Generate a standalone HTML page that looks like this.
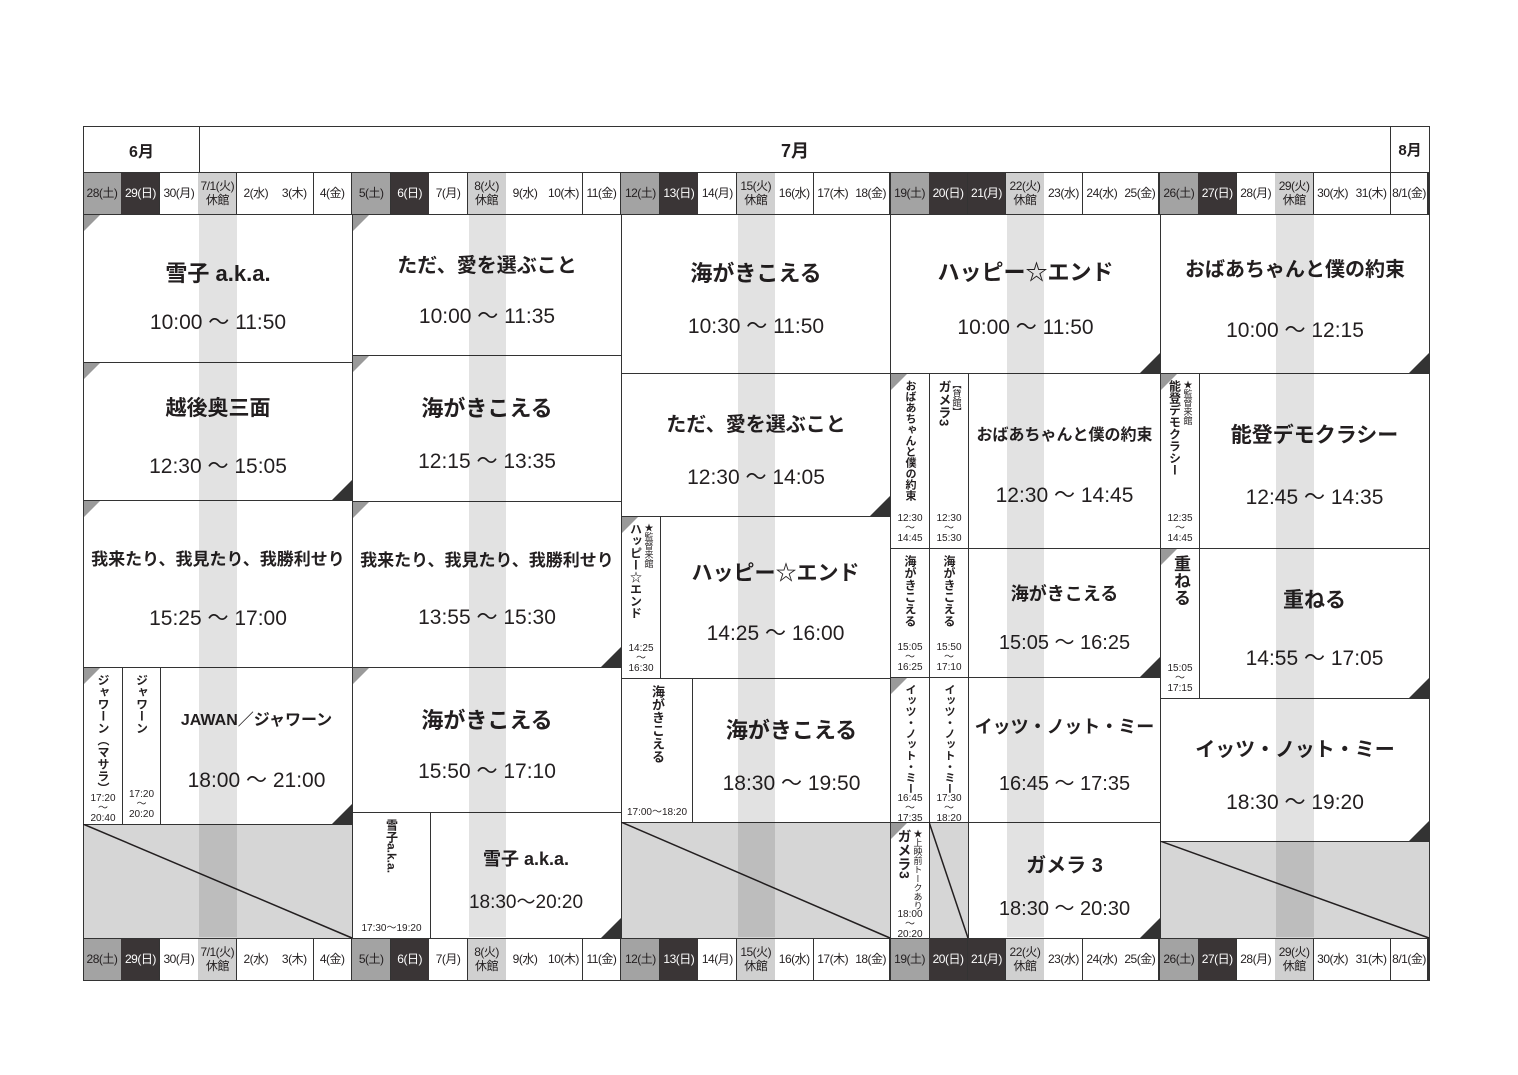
<!DOCTYPE html>
<html><head><meta charset="utf-8">
<style>
body{margin:0;background:#fff;width:1518px;height:1075px;position:relative;overflow:hidden;font-family:"Liberation Sans","Noto Sans CJK JP",sans-serif;color:#231f20}
.a{position:absolute;box-sizing:border-box}
.c{border:1px solid #333;background:transparent}
.day{display:flex;align-items:center;justify-content:center;text-align:center;font-size:12px;line-height:14px;border-right:1px solid #333;letter-spacing:-0.5px}
.blk{display:flex;flex-direction:column;align-items:center;justify-content:center;text-align:center}
.t{font-weight:bold}
.tm{font-size:21px;margin-top:18px}
.v{display:flex;flex-direction:column;align-items:center;justify-content:space-between;padding:6px 0 4px}
.vt{writing-mode:vertical-rl;font-size:13px;font-weight:bold;line-height:14px}
.vtime{font-size:10px;line-height:10px;text-align:center}
.tl{position:absolute;left:0;top:0;width:0;height:0;border-top:16px solid #9a9a9a;border-right:16px solid transparent}
.br{position:absolute;right:0;bottom:0;width:0;height:0;border-bottom:20px solid #333;border-left:20px solid transparent}
.st{position:absolute;background:#e2e2e2;mix-blend-mode:multiply}
</style></head><body>
<div id="root"></div>
<script>
const R=document.getElementById('root');
const CW=1346/35;
function X(i){return 83+i*CW}
let h='';
function add(s){h+=s}
add(`<div class="a c" style="left:83px;top:126px;width:1347px;height:855px"></div>`);
add(`<div class="a c blk t" style="left:83px;top:126px;width:117px;height:47px;font-size:16px">6月</div>`);
add(`<div class="a c blk t" style="left:199px;top:126px;width:1192px;height:47px;font-size:18px">7月</div>`);
add(`<div class="a c blk t" style="left:1390px;top:126px;width:40px;height:47px;font-size:15px">8月</div>`);
const days=['28(土)','29(日)','30(月)','7/1(火)<br>休館','2(水)','3(木)','4(金)','5(土)','6(日)','7(月)','8(火)<br>休館','9(水)','10(木)','11(金)','12(土)','13(日)','14(月)','15(火)<br>休館','16(水)','17(木)','18(金)','19(土)','20(日)','21(月)','22(火)<br>休館','23(水)','24(水)','25(金)','26(土)','27(日)','28(月)','29(火)<br>休館','30(水)','31(木)','8/1(金)'];
function dayRow(y){
 days.forEach((d,i)=>{
  let bg='#fff',col='#231f20';
  if(i%7==0){bg='#a3a3a3'}
  if(i%7==1||i==23){bg='#3a3536';col='#fff'}
  if(i%7==3){bg='#d0d0d0'}
  const bw=(i%7==6)?'2px':'1px';
  add(`<div class="a day" style="left:${X(i)}px;top:${y}px;width:${CW+0.5}px;height:42px;background:${bg};color:${col};border-right-width:${bw}">${d}</div>`);
 });
 add(`<div class="a" style="left:83px;top:${y}px;width:1347px;height:43px;border:1px solid #333"></div>`);
}
dayRow(172);dayRow(938);
function B(x1,y1,x2,y2,t,tm,o){o=o||{};
 add(`<div class="a c blk" style="left:${x1}px;top:${y1}px;width:${x2-x1+1}px;height:${y2-y1+1}px;padding-top:${o.pt||8}px">${o.tl?'<div class="tl"></div>':''}${o.br?'<div class="br"></div>':''}<div class="t" style="font-size:${o.fs||22}px">${t}</div><div class="tm" style="font-size:${o.tfs||21}px;margin-top:${o.gap||18}px">${tm}</div></div>`);
}
function V(x1,y1,x2,y2,t,tm,o){o=o||{};
 const times=o.one?`<div class="vtime" style="font-size:10px;white-space:nowrap">${tm}</div>`:`<div class="vtime">${tm.split('〜').join('<br>〜<br>')}</div>`;
 const star=o.star?`<div class="vt" style="font-size:9px;line-height:10px;font-weight:normal">${o.star}</div>`:'';
 add(`<div class="a c v" style="left:${x1}px;top:${y1}px;width:${x2-x1+1}px;height:${y2-y1+1}px">${o.tl?'<div class="tl"></div>':''}${o.br?'<div class="br"></div>':''}<div style="display:flex;flex-direction:row;gap:1px"><div class="vt" style="font-size:${o.fs||13}px">${t}</div>${star}</div>${times}</div>`);
}
function G(x1,y1,x2,y2){
 const w=x2-x1,hh=y2-y1;
 add(`<svg class="a" style="left:${x1}px;top:${y1}px" width="${w+1}" height="${hh+1}"><rect x="0.5" y="0.5" width="${w}" height="${hh}" fill="#d6d6d6" stroke="#333"/><line x1="0" y1="0" x2="${w}" y2="${hh}" stroke="#231f20" stroke-width="1.5"/></svg>`);
}
B(83,214,352,362,'雪子 a.k.a.','10:00 〜 11:50',{tl:1,pt:14});
B(83,362,352,500,'越後奥三面','12:30 〜 15:05',{tl:1,br:1,fs:21,gap:28});
B(83,500,352,667,'我来たり、我見たり、我勝利せり','15:25 〜 17:00',{tl:1,fs:17,gap:32});
V(83,667,122,824,'ジャワーン（マサラ）','17:20〜20:40',{tl:1,fs:12});
V(122,667,160,824,'ジャワーン','17:20〜20:20',{fs:12});
B(160,667,352,824,'JAWAN／ジャワーン','18:00 〜 21:00',{br:1,fs:16,gap:34});
G(83,824,352,938);
B(352,214,621,355,'ただ、愛を選ぶこと','10:00 〜 11:35',{tl:1,fs:20,gap:22});
B(352,355,621,501,'海がきこえる','12:15 〜 13:35',{tl:1,gap:22});
B(352,501,621,667,'我来たり、我見たり、我勝利せり','13:55 〜 15:30',{br:1,tl:1,fs:17,gap:30});
B(352,667,621,812,'海がきこえる','15:50 〜 17:10',{tl:1,gap:20});
V(352,812,430,938,'雪子a.k.a.','17:30〜19:20',{one:1,fs:12});
B(430,812,621,938,'雪子 a.k.a.','18:30〜20:20',{br:1,fs:18,tfs:19,gap:16});
B(621,214,890,373,'海がきこえる','10:30 〜 11:50',{gap:22});
B(621,373,890,516,'ただ、愛を選ぶこと','12:30 〜 14:05',{br:1,fs:20,gap:24});
V(621,516,660,678,'ハッピー☆エンド','14:25〜16:30',{tl:1,star:'★監督来館',fs:12});
B(660,516,890,678,'ハッピー☆エンド','14:25 〜 16:00',{fs:21,gap:30});
V(621,678,692,822,'海がきこえる','17:00〜18:20',{one:1});
B(692,678,890,822,'海がきこえる','18:30 〜 19:50',{gap:22});
G(621,822,890,938);
B(890,214,1160,373,'ハッピー☆エンド','10:00 〜 11:50',{br:1,gap:24});
V(890,373,929,548,'おばあちゃんと僕の約束','12:30〜14:45',{tl:1,fs:11});
V(929,373,968,548,'ガメラ3','12:30〜15:30',{star:'【貸館】'});
B(968,373,1160,548,'おばあちゃんと僕の約束','12:30 〜 14:45',{fs:16,gap:34});
V(890,548,929,677,'海がきこえる','15:05〜16:25',{fs:12});
V(929,548,968,677,'海がきこえる','15:50〜17:10',{fs:12});
B(968,548,1160,677,'海がきこえる','15:05 〜 16:25',{br:1,fs:18,gap:20,tfs:20});
V(890,677,929,822,'イッツ・ノット・ミー','16:45〜17:35',{tl:1,fs:11});
V(929,677,968,822,'イッツ・ノット・ミー','17:30〜18:20',{fs:11});
B(968,677,1160,822,'イッツ・ノット・ミー','16:45 〜 17:35',{fs:18,gap:28,tfs:20});
V(890,822,929,938,'ガメラ3','18:00〜20:20',{tl:1,star:'★上映前トークあり',fs:14});
G(929,822,968,938);
B(968,822,1160,938,'ガメラ 3','18:30 〜 20:30',{br:1,fs:20,gap:14,tfs:20});
B(1160,214,1429,373,'おばあちゃんと僕の約束','10:00 〜 12:15',{br:1,fs:20,gap:32});
V(1160,373,1199,548,'能登デモクラシー','12:35〜14:45',{tl:1,star:'★監督来館',fs:12});
B(1199,373,1429,548,'能登デモクラシー','12:45 〜 14:35',{fs:21,gap:32});
V(1160,548,1199,698,'重ねる','15:05〜17:15',{tl:1,fs:17});
B(1199,548,1429,698,'重ねる','14:55 〜 17:05',{br:1,fs:21,gap:28});
B(1160,698,1429,841,'イッツ・ノット・ミー','18:30 〜 19:20',{br:1,fs:20,gap:24});
G(1160,841,1429,938);
[3,10,17,24,31].forEach(i=>{add(`<div class="st" style="left:${X(i)+1}px;top:215px;width:${CW-1}px;height:722px"></div>`)});
R.innerHTML=h;
</script>
</body></html>
